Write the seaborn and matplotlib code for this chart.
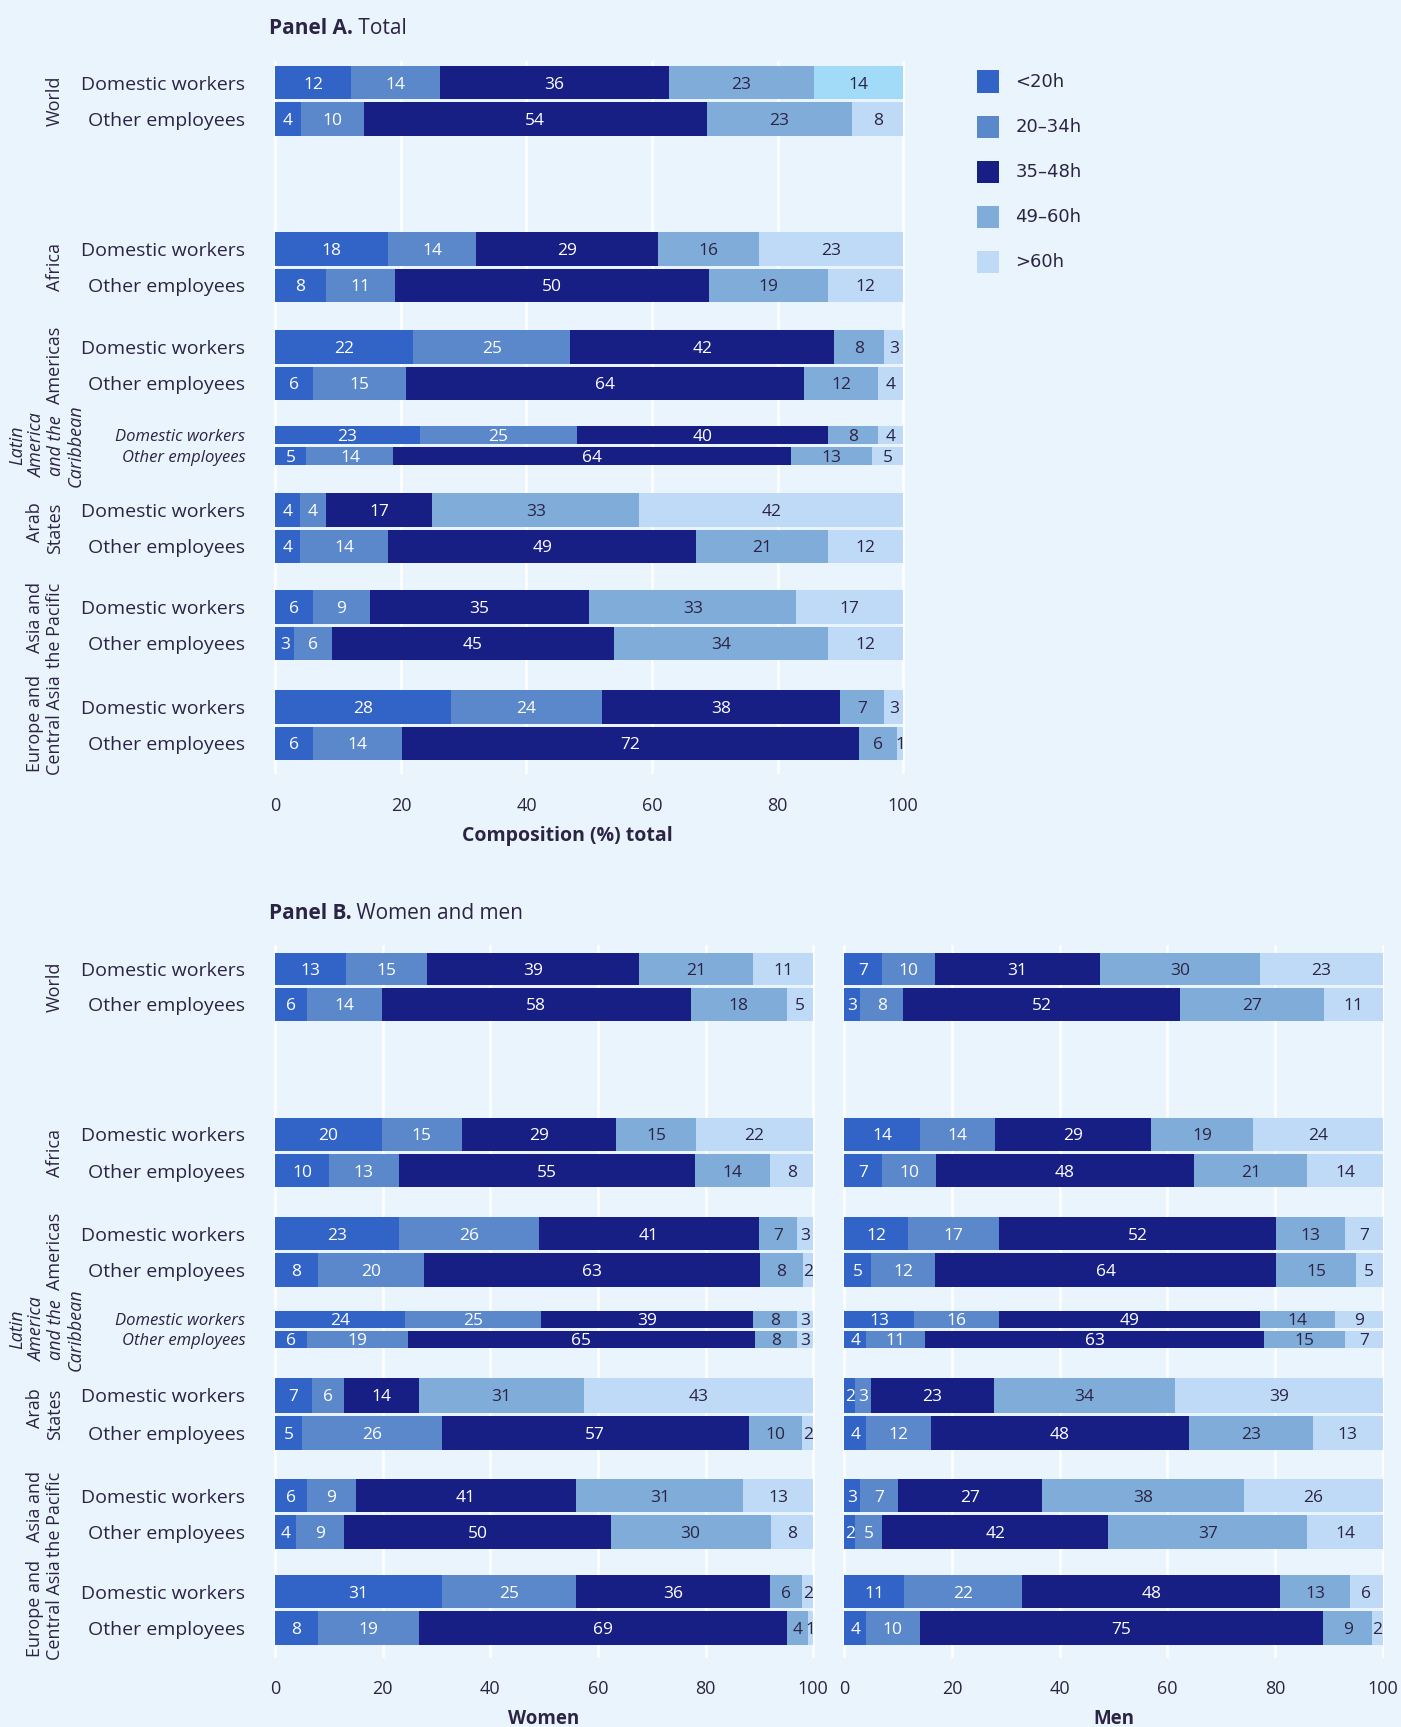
import numpy as np
import pandas as pd
import matplotlib
matplotlib.use("Agg")
import matplotlib.pyplot as plt
import seaborn as sns
from matplotlib.patches import Rectangle

# ---------------- data ----------------
categories = ["<20h", "20–34h", "35–48h", "49–60h", ">60h"]
regions = ["World", "Africa", "Americas", "Latin\nAmerica\nand the\nCaribbean",
           "Arab\nStates", "Asia and\nthe Pacific", "Europe and\nCentral Asia"]
rows = ["Domestic workers", "Other employees"]

total_dw = [[12, 14, 36, 23, 14], [18, 14, 29, 16, 23], [22, 25, 42, 8, 3], [23, 25, 40, 8, 4],
            [4, 4, 17, 33, 42], [6, 9, 35, 33, 17], [28, 24, 38, 7, 3]]
total_oe = [[4, 10, 54, 23, 8], [8, 11, 50, 19, 12], [6, 15, 64, 12, 4], [5, 14, 64, 13, 5],
            [4, 14, 49, 21, 12], [3, 6, 45, 34, 12], [6, 14, 72, 6, 1]]
women_dw = [[13, 15, 39, 21, 11], [20, 15, 29, 15, 22], [23, 26, 41, 7, 3], [24, 25, 39, 8, 3],
            [7, 6, 14, 31, 43], [6, 9, 41, 31, 13], [31, 25, 36, 6, 2]]
women_oe = [[6, 14, 58, 18, 5], [10, 13, 55, 14, 8], [8, 20, 63, 8, 2], [6, 19, 65, 8, 3],
            [5, 26, 57, 10, 2], [4, 9, 50, 30, 8], [8, 19, 69, 4, 1]]
men_dw = [[7, 10, 31, 30, 23], [14, 14, 29, 19, 24], [12, 17, 52, 13, 7], [13, 16, 49, 14, 9],
          [2, 3, 23, 34, 39], [3, 7, 27, 38, 26], [11, 22, 48, 13, 6]]
men_oe = [[3, 8, 52, 27, 11], [7, 10, 48, 21, 14], [5, 12, 64, 15, 5], [4, 11, 63, 15, 7],
          [4, 12, 48, 23, 13], [2, 5, 42, 37, 14], [4, 10, 75, 9, 2]]
xticks = [0, 20, 40, 60, 80, 100]

# ---------------- style ----------------
BG = "#eaf4fd"
TXT = "#2c2444"
colors = ["#3264c8", "#5b88cb", "#171f84", "#80acd9", "#bedaf6"]
highlight = "#a2dbf7"

sns.set_theme(style="white")
plt.rcParams["font.family"] = ["Open Sans", "DejaVu Sans"]
plt.rcParams["text.color"] = TXT

W, H = 1272.0, 1568.0  # layout reference units


def fx(x):
    return x / W


def fy(y):
    return 1 - y / H


def rect(x0, x1, ytop, ybot):
    return [x0 / W, 1 - ybot / H, (x1 - x0) / W, (ybot - ytop) / H]


# row centre positions (layout units)
pos_A = [(75, 108), (226, 259), (315, 348), (395, 414), (463, 496), (551, 584), (642, 675)]
pos_B = [(880, 912), (1030, 1063), (1120, 1153), (1198, 1216), (1267, 1301), (1358, 1391), (1445, 1478)]

fig = plt.figure(figsize=(14.01, 17.27), dpi=100, facecolor=BG)


def style_axis(ax, ytop, ybot, xlabel, show_rows, pos, xl_size=13.5, xl_x=0.5):
    ax.set_facecolor(BG)
    for s in ax.spines.values():
        s.set_visible(False)
    ax.set_xlim(-0.35, 100.35)
    ax.set_ylim(ybot, ytop)
    ax.set_xticks(xticks)
    ax.set_xticklabels([str(t) for t in xticks])
    ax.grid(axis="x", color="white", linewidth=1.8)
    ax.grid(axis="y", visible=False)
    ax.set_axisbelow(True)
    ax.tick_params(axis="x", length=0, labelsize=13, labelcolor=TXT, pad=16)
    ax.set_xlabel(xlabel, fontsize=xl_size, fontweight="bold", color=TXT, labelpad=8)
    ax.xaxis.label.set_x(xl_x)
    ax.set_ylabel("")
    if show_rows:
        ticks, labs = [], []
        for p in pos:
            ticks += list(p)
            labs += rows
        ax.set_yticks(ticks)
        ax.set_yticklabels(labs)
        ax.tick_params(axis="y", length=0, labelsize=14, labelcolor=TXT, pad=20)
        for i, t in enumerate(ax.get_yticklabels()):
            if i in (6, 7):
                t.set_fontstyle("italic")
                t.set_fontsize(12)
    else:
        ax.set_yticks([])


def draw_panel(ax, dw, oe, pos, hl=None):
    for r in range(len(dw)):
        p = pos[r]
        spacing = p[1] - p[0]
        width = (spacing - 2.8) / spacing
        vals = np.array([dw[r], oe[r]], dtype=float)
        cum = np.cumsum(vals, axis=1) / vals.sum(axis=1, keepdims=True) * 100
        for k in range(4, -1, -1):
            cols = [colors[k], colors[k]]
            if hl is not None and hl == (r, k):
                cols[0] = highlight
            df = pd.DataFrame({"pos": list(p), "end": cum[:, k], "row": rows})
            sns.barplot(data=df, x="end", y="pos", hue="row", palette=dict(zip(rows, cols)),
                        orient="y", native_scale=True, dodge=False, legend=False,
                        errorbar=None, width=width, linewidth=0, saturation=1, ax=ax)
        for i in range(2):
            starts = np.concatenate([[0], cum[i, :-1]])
            for k in range(5):
                c = (starts[k] + cum[i, k]) / 2
                ax.text(c, p[i], f"{vals[i, k]:.0f}", ha="center", va="center_baseline",
                        color="white" if k < 3 else TXT, fontsize=12.5)


def region_labels(pos):
    for r, name in enumerate(regions):
        yc = (pos[r][0] + pos[r][1]) / 2
        if r == 3:
            fig.text(fx(42), fy(yc), name, rotation=90, ha="center", va="center",
                     fontsize=13, fontstyle="italic", color=TXT, linespacing=1.1)
        else:
            fig.text(fx(58), fy(yc), name, rotation=90, ha="right", va="center",
                     fontsize=13, color=TXT, linespacing=1.1)


def panel_title(x, y, bold, rest):
    t = fig.text(fx(x), fy(y), bold, fontsize=15, fontweight="bold", va="center", color=TXT)
    fig.canvas.draw()
    bb = t.get_window_extent(renderer=fig.canvas.get_renderer())
    fig.text(bb.x1 / fig.bbox.width, fy(y), " " + rest, fontsize=15, va="center", color=TXT)


# ---------------- Panel A ----------------
axA = fig.add_axes(rect(248, 822, 55, 703))
draw_panel(axA, total_dw, total_oe, pos_A, hl=(0, 4))
style_axis(axA, 55, 703, "Composition (%) total", True, pos_A, xl_size=14, xl_x=0.465)
region_labels(pos_A)

# legend
for i, lab in enumerate(categories):
    yc = 74 + 41 * i
    fig.add_artist(Rectangle((fx(887), fy(yc + 10)), 20 / W, 20 / H, transform=fig.transFigure,
                             facecolor=colors[i], edgecolor="none"))
    fig.text(fx(922), fy(yc), lab, fontsize=13, va="center", color=TXT, family="DejaVu Sans")

# ---------------- Panel B ----------------
axW = fig.add_axes(rect(248, 740, 858, 1505))
draw_panel(axW, women_dw, women_oe, pos_B)
style_axis(axW, 858, 1505, "Women", True, pos_B)

axM = fig.add_axes(rect(765, 1257, 858, 1505))
draw_panel(axM, men_dw, men_oe, pos_B)
style_axis(axM, 858, 1505, "Men", False, pos_B)
region_labels(pos_B)

panel_title(244, 26, "Panel A.", "Total")
panel_title(244, 829, "Panel B.", "Women and men")

fig.savefig("out.png", dpi=100, facecolor=BG)
